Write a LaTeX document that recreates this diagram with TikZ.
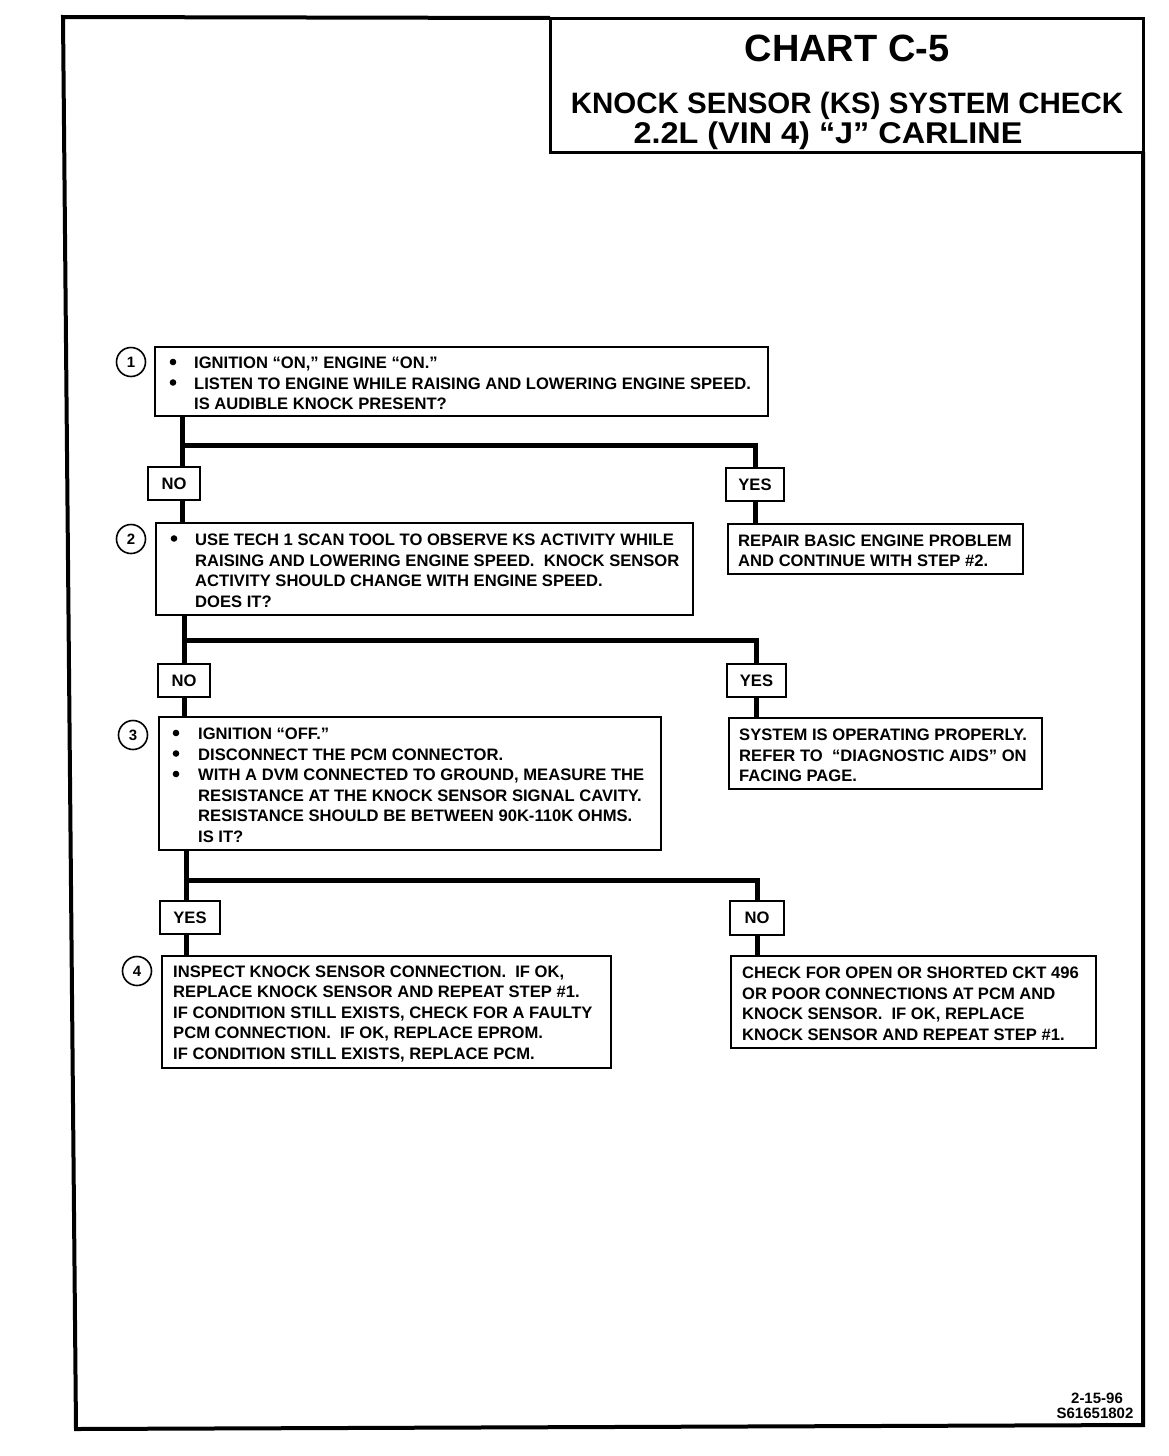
\documentclass[tikz,border=0pt]{standalone}
\usepackage{fontspec}
\setmainfont{Liberation Sans}
\newcommand\kbody{\fontsize{16.6}{20.5}\selectfont\bfseries}
\newcommand\knum{\fontsize{15}{16}\selectfont\bfseries}
\newcommand\kdate{\fontsize{15}{17}\selectfont\bfseries}
\newcommand\kind{\hspace*{25pt}}
\begin{document}
\begin{tikzpicture}[x=1pt,y=-1pt,
  conn/.style={line width=5pt},
  frame/.style={line width=4pt},
  kbox/.style={draw, line width=2pt, anchor=north west, outer sep=0pt, inner sep=0pt},
  ktxt/.style={anchor=west, align=left, inner sep=0pt, font=\kbody, yshift=-1.8pt},
  lab/.style={draw, line width=2pt, outer sep=0pt, inner sep=0pt, minimum height=33pt, font=\kbody},
  num/.style={draw, circle, line width=1.6pt, minimum size=29pt, inner sep=0pt, font=\knum},
  ttl/.style={anchor=base, inner sep=0pt, font=\bfseries},
  dot/.style={fill=black}]
\useasboundingbox (0,0) rectangle (1168,1456);
% frame and title box
\draw[frame] (550,18) -- (63,17) -- (76,1429) -- (1143,1425) -- (1143,152);
\node[kbox, line width=3pt, minimum width=593pt, minimum height=134pt] (title) at (550,18) {};
\node[ttl, font=\fontsize{38}{40}\selectfont\bfseries] (t1) at (847,61) {CHART C-5};
\node[ttl, font=\fontsize{29.5}{32}\selectfont\bfseries] (t2) at (847,113.5) {KNOCK SENSOR (KS) SYSTEM CHECK};
\node[ttl, font=\fontsize{30}{32}\selectfont\bfseries] (t3) at (828,143) {\scalebox{1.08}[1]{2.2L (VIN 4) “J” CARLINE}};
% step 1
\node[kbox, minimum width=613pt, minimum height=69pt] (b1) at (155,347) {};
\node[ktxt, xshift=14pt] (b1t) at (b1.west) {\kind IGNITION “ON,” ENGINE “ON.”\\
\kind LISTEN TO ENGINE WHILE RAISING AND LOWERING ENGINE SPEED.\\
\kind IS AUDIBLE KNOCK PRESENT?};
\fill[dot] (173,362) circle (3.3pt) (173,382.5) circle (3.3pt);
\node[num] (c1) at (131,362) {1};
\node[lab, minimum width=52pt] (n1) at (174,483.5) {NO};
\node[lab, minimum width=58pt] (y1) at (755,484.5) {YES};
\node[kbox, minimum width=295pt, minimum height=50pt] (r1) at (728,524) {};
\node[ktxt, xshift=10pt] (r1t) at (r1.west) {REPAIR BASIC ENGINE PROBLEM\\AND CONTINUE WITH STEP \#2.};
% step 2
\node[kbox, minimum width=537pt, minimum height=92pt] (b2) at (156,523) {};
\node[ktxt, xshift=14pt] (b2t) at (b2.west) {\kind USE TECH 1 SCAN TOOL TO OBSERVE KS ACTIVITY WHILE\\
\kind RAISING AND LOWERING ENGINE SPEED.\ \ KNOCK SENSOR\\
\kind ACTIVITY SHOULD CHANGE WITH ENGINE SPEED.\\
\kind DOES IT?};
\fill[dot] (174,538.5) circle (3.3pt);
\node[num] (c2) at (131,539) {2};
\node[lab, minimum width=52pt] (n2) at (184,680.5) {NO};
\node[lab, minimum width=59pt] (y2) at (756.5,680.5) {YES};
\node[kbox, minimum width=313pt, minimum height=71pt] (r2) at (729,718) {};
\node[ktxt, xshift=10pt] (r2t) at (r2.west) {SYSTEM IS OPERATING PROPERLY.\\REFER TO\ \ “DIAGNOSTIC AIDS” ON\\FACING PAGE.};
% step 3
\node[kbox, minimum width=502pt, minimum height=133pt] (b3) at (159,717) {};
\node[ktxt, xshift=14pt] (b3t) at (b3.west) {\kind IGNITION “OFF.”\\
\kind DISCONNECT THE PCM CONNECTOR.\\
\kind WITH A DVM CONNECTED TO GROUND, MEASURE THE\\
\kind RESISTANCE AT THE KNOCK SENSOR SIGNAL CAVITY.\\
\kind RESISTANCE SHOULD BE BETWEEN 90K-110K OHMS.\\
\kind IS IT?};
\fill[dot] (176,733) circle (3.3pt) (176,753.5) circle (3.3pt) (176,774) circle (3.3pt);
\node[num] (c3) at (133,735) {3};
\node[lab, minimum width=60pt] (y3) at (190,917.5) {YES};
\node[lab, minimum width=54pt, minimum height=34pt] (n3) at (757,918) {NO};
% step 4
\node[kbox, minimum width=449pt, minimum height=112pt] (b4) at (162,956) {};
\node[ktxt, xshift=11pt] (b4t) at (b4.west) {INSPECT KNOCK SENSOR CONNECTION.\ \ IF OK,\\
REPLACE KNOCK SENSOR AND REPEAT STEP \#1.\\
IF CONDITION STILL EXISTS, CHECK FOR A FAULTY\\
PCM CONNECTION.\ \ IF OK, REPLACE EPROM.\\
IF CONDITION STILL EXISTS, REPLACE PCM.};
\node[num] (c4) at (137,971) {4};
\node[kbox, minimum width=365pt, minimum height=92pt] (r3) at (731,956) {};
\node[ktxt, xshift=11pt] (r3t) at (r3.west) {CHECK FOR OPEN OR SHORTED CKT 496\\
OR POOR CONNECTIONS AT PCM AND\\
KNOCK SENSOR.\ \ IF OK, REPLACE\\
KNOCK SENSOR AND REPEAT STEP \#1.};
% date
\node[font=\kdate, inner sep=0pt] (d1) at (1097,1398) {2-15-96};
\node[font=\kdate, inner sep=0pt] (d2) at (1095,1413) {S61651802};
% connectors
\coordinate (j1) at (182,445);
\draw[conn] (b1.south -| j1) -- (n1.north -| j1);
\draw[conn] (j1) -| (y1.north);
\draw[conn] (n1.south -| j1) -- (b2.north -| j1);
\draw[conn] (y1.south) -- (r1.north -| y1.south);
\coordinate (j2) at (184,640);
\draw[conn] (b2.south -| j2) -- (n2.north -| j2);
\draw[conn] (j2) -| (y2.north);
\draw[conn] (n2.south -| j2) -- (b3.north -| j2);
\draw[conn] (y2.south) -- (r2.north -| y2.south);
\coordinate (j3) at (186,880);
\draw[conn] (b3.south -| j3) -- (y3.north -| j3);
\draw[conn] (j3) -| (n3.north);
\draw[conn] (y3.south -| j3) -- (b4.north -| j3);
\draw[conn] (n3.south) -- (r3.north -| n3.south);
\end{tikzpicture}
\end{document}
